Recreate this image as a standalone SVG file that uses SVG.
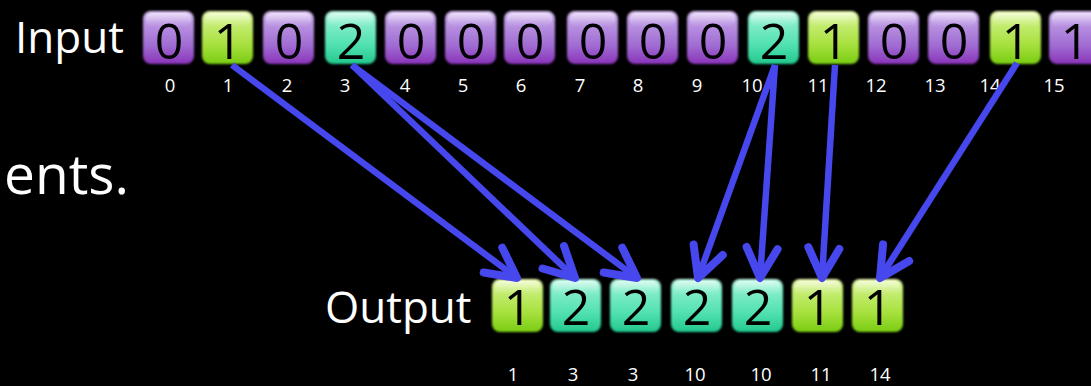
<svg xmlns="http://www.w3.org/2000/svg" width="1091" height="386" viewBox="0 0 1091 386">
<style>
.lbl{font-family:"Open Sans","DejaVu Sans",sans-serif;fill:#fff;}
.big{font-size:44px;}
.idx{font-size:18.5px;text-anchor:middle;}
.dg{font-family:"Open Sans","DejaVu Sans",sans-serif;font-size:50px;fill:#000;text-anchor:middle;}
.box{filter:url(#soft);}
.p{fill:url(#gp);}
.g{fill:url(#gg);}
.t{fill:url(#gt);}
.hl{fill:url(#ghl);}
.arr{fill:none;stroke:#4747EE;stroke-width:6.5;marker-end:url(#ah);}
</style>
<defs>
<linearGradient id="gp" x1="0" y1="0" x2="0" y2="1">
<stop offset="0" stop-color="#e0caf6"/><stop offset="0.2" stop-color="#bc98e4"/><stop offset="0.65" stop-color="#a06cd2"/><stop offset="1" stop-color="#8a34ba"/>
</linearGradient>
<linearGradient id="gg" x1="0" y1="0" x2="0" y2="1">
<stop offset="0" stop-color="#eefbbc"/><stop offset="0.2" stop-color="#c8ee78"/><stop offset="0.65" stop-color="#a6e03c"/><stop offset="1" stop-color="#78cc12"/>
</linearGradient>
<linearGradient id="gt" x1="0" y1="0" x2="0" y2="1">
<stop offset="0" stop-color="#c4f9e8"/><stop offset="0.2" stop-color="#86eecb"/><stop offset="0.65" stop-color="#50e0b0"/><stop offset="1" stop-color="#22c88c"/>
</linearGradient>
<linearGradient id="ghl" x1="0" y1="0" x2="0" y2="1">
<stop offset="0" stop-color="#fff" stop-opacity="0.45"/><stop offset="1" stop-color="#fff" stop-opacity="0"/>
</linearGradient>
<filter id="soft" x="-10%" y="-10%" width="120%" height="120%"><feGaussianBlur stdDeviation="0.8"/></filter>
<marker id="ah" markerUnits="userSpaceOnUse" markerWidth="60" markerHeight="60" refX="0" refY="0" orient="auto" overflow="visible" viewBox="-40 -30 50 60">
<path d="M-30,-15.5 L0,0 L-30,15.5" fill="none" stroke="#4747EE" stroke-width="8" stroke-linecap="round" stroke-linejoin="round"/>
</marker>
<g id="bp"><rect class="box p" width="51" height="53" rx="8"/><rect class="hl" x="3" y="2" width="45" height="14" rx="6"/></g>
<g id="bg"><rect class="box g" width="51" height="53" rx="8"/><rect class="hl" x="3" y="2" width="45" height="14" rx="6"/></g>
<g id="bt"><rect class="box t" width="51" height="53" rx="8"/><rect class="hl" x="3" y="2" width="45" height="14" rx="6"/></g>
</defs>
<rect width="1091" height="386" fill="#000"/>

<text class="lbl" style="font-size:55px" x="129" y="194" text-anchor="end">ents.</text>

<g id="input-label"><text class="lbl big" x="15" y="53">Input</text></g>

<g id="in0"><use href="#bp" x="143" y="11"/><text class="dg" x="169" y="59">0</text><text class="lbl idx" x="170" y="92">0</text></g>
<g id="in1"><use href="#bg" x="202" y="11"/><text class="dg" x="228" y="59">1</text><text class="lbl idx" x="228" y="92">1</text></g>
<g id="in2"><use href="#bp" x="263" y="11"/><text class="dg" x="289" y="59">0</text><text class="lbl idx" x="287" y="92">2</text></g>
<g id="in3"><use href="#bt" x="325" y="11"/><text class="dg" x="351" y="59">2</text><text class="lbl idx" x="345" y="92">3</text></g>
<g id="in4"><use href="#bp" x="385" y="11"/><text class="dg" x="411" y="59">0</text><text class="lbl idx" x="405" y="92">4</text></g>
<g id="in5"><use href="#bp" x="445" y="11"/><text class="dg" x="471" y="59">0</text><text class="lbl idx" x="463" y="92">5</text></g>
<g id="in6"><use href="#bp" x="504" y="11"/><text class="dg" x="530" y="59">0</text><text class="lbl idx" x="521" y="92">6</text></g>
<g id="in7"><use href="#bp" x="567" y="11"/><text class="dg" x="593" y="59">0</text><text class="lbl idx" x="580" y="92">7</text></g>
<g id="in8"><use href="#bp" x="627" y="11"/><text class="dg" x="653" y="59">0</text><text class="lbl idx" x="638" y="92">8</text></g>
<g id="in9"><use href="#bp" x="687" y="11"/><text class="dg" x="713" y="59">0</text><text class="lbl idx" x="697" y="92">9</text></g>
<g id="in10"><use href="#bt" x="748" y="11"/><text class="dg" x="774" y="59">2</text><text class="lbl idx" x="752" y="92">10</text></g>
<g id="in11"><use href="#bg" x="808" y="11"/><text class="dg" x="834" y="59">1</text><text class="lbl idx" x="818" y="92">11</text></g>
<g id="in12"><use href="#bp" x="868" y="11"/><text class="dg" x="894" y="59">0</text><text class="lbl idx" x="876" y="92">12</text></g>
<g id="in13"><use href="#bp" x="928" y="11"/><text class="dg" x="954" y="59">0</text><text class="lbl idx" x="935" y="92">13</text></g>
<g id="in14"><use href="#bg" x="990" y="11"/><text class="dg" x="1016" y="59">1</text><text class="lbl idx" x="990" y="92">14</text></g>
<g id="in15"><use href="#bp" x="1049" y="11"/><text class="dg" x="1075" y="59">1</text><text class="lbl idx" x="1054" y="92">15</text></g>

<g id="output-label"><text class="lbl big" x="325" y="323">Output</text></g>

<g id="out0"><use href="#bg" x="492" y="279"/><text class="dg" x="518" y="325">1</text><text class="lbl idx" x="513" y="381">1</text></g>
<g id="out1"><use href="#bt" x="550" y="279"/><text class="dg" x="576" y="325">2</text><text class="lbl idx" x="573" y="381">3</text></g>
<g id="out2"><use href="#bt" x="610" y="279"/><text class="dg" x="636" y="325">2</text><text class="lbl idx" x="633" y="381">3</text></g>
<g id="out3"><use href="#bt" x="671" y="279"/><text class="dg" x="697" y="325">2</text><text class="lbl idx" x="695" y="381">10</text></g>
<g id="out4"><use href="#bt" x="732" y="279"/><text class="dg" x="758" y="325">2</text><text class="lbl idx" x="761" y="381">10</text></g>
<g id="out5"><use href="#bg" x="792" y="279"/><text class="dg" x="818" y="325">1</text><text class="lbl idx" x="821" y="381">11</text></g>
<g id="out6"><use href="#bg" x="852" y="279"/><text class="dg" x="878" y="325">1</text><text class="lbl idx" x="880" y="381">14</text></g>

<g id="connectors">
<line class="arr" x1="232" y1="65" x2="517" y2="278"/>
<line class="arr" x1="352" y1="65" x2="575" y2="278"/>
<line class="arr" x1="352" y1="65" x2="637" y2="278"/>
<line class="arr" x1="775" y1="65" x2="698" y2="278"/>
<line class="arr" x1="775" y1="65" x2="760" y2="278"/>
<line class="arr" x1="835" y1="65" x2="822" y2="278"/>
<line class="arr" x1="1017" y1="63" x2="880" y2="278"/>
</g>
</svg>
